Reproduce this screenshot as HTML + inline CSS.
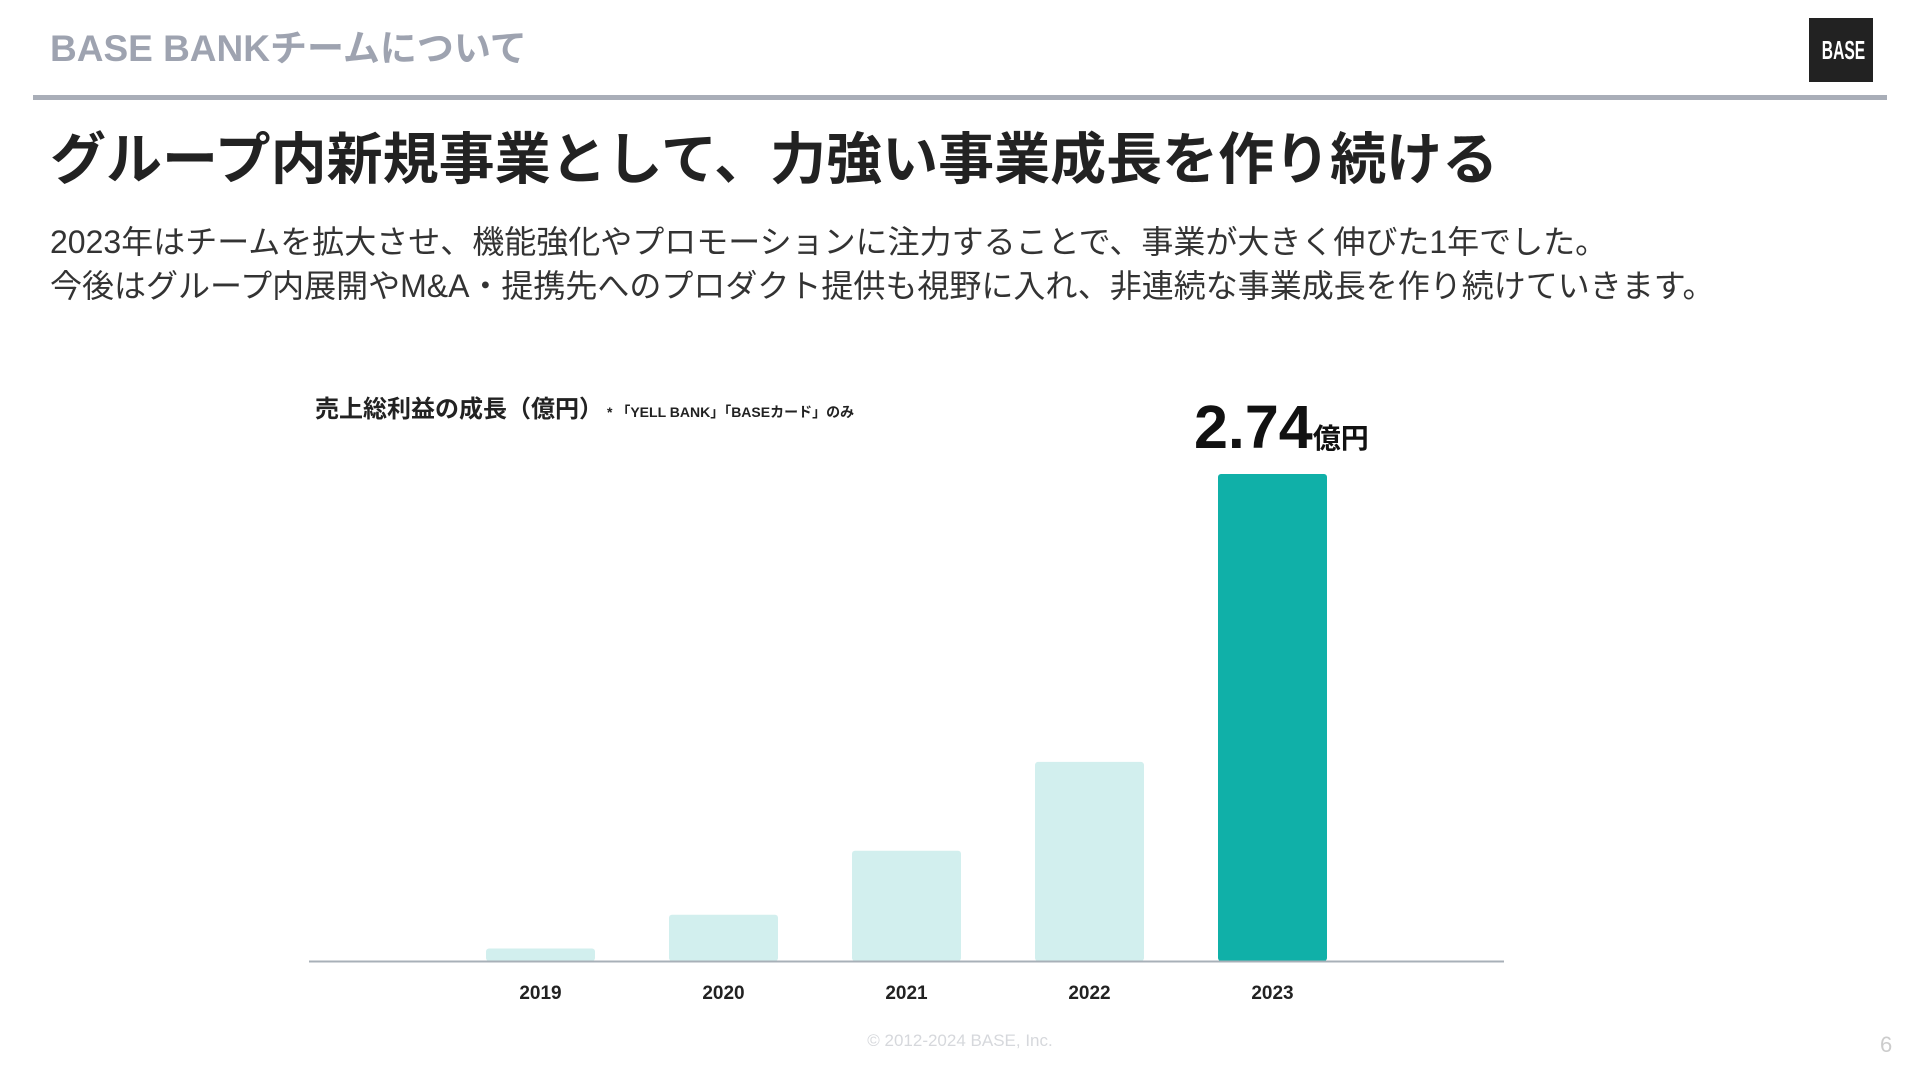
<!DOCTYPE html>
<html><head><meta charset="utf-8">
<style>
body{margin:0;width:1920px;height:1080px;background:#fff;position:relative;overflow:hidden;font-family:"Liberation Sans","Noto Sans CJK JP",sans-serif;}
.a{position:absolute;white-space:nowrap;}
</style></head>
<body>
<div class="a" style="left:50px;top:26px;font-size:37px;font-weight:bold;color:#9ea3b0;line-height:46px;">BASE BANKチームについて</div>
<div class="a" style="left:1809px;top:18px;width:64px;height:64px;background:#222;"><div style="color:#fff;font-size:26px;font-weight:bold;text-align:center;line-height:64px;transform:scaleX(0.6);">BASE</div></div>
<div class="a" style="left:33px;top:95px;width:1854px;height:5px;background:#a9aeb8;"></div>
<div class="a" style="left:50px;top:127px;font-size:56px;font-weight:bold;color:#222;line-height:66px;">グループ内新規事業として、力強い事業成長を作り続ける</div>
<div class="a" style="left:50px;top:220px;font-size:32px;color:#333;line-height:44px;">2023年はチームを拡大させ、機能強化やプロモーションに注力することで、事業が大きく伸びた1年でした。<br>今後はグループ内展開やM&amp;A・提携先へのプロダクト提供も視野に入れ、非連続な事業成長を作り続けていきます。</div>
<div class="a" style="left:315px;top:394px;font-size:24px;font-weight:bold;color:#222;line-height:32px;">売上総利益の成長（億円）<span style="font-size:14px;margin-left:4px;">* 「YELL BANK」「BASEカード」のみ</span></div>
<div class="a" style="left:1194px;top:392px;font-size:61px;font-weight:bold;color:#111;line-height:70px;">2.74<span style="font-size:28px;">億円</span></div>
<svg class="a" style="left:0;top:0" width="1920" height="1080">
<g id="bars"></g>
<line x1="309" y1="961.5" x2="1504" y2="961.5" stroke="#a8b0b8" stroke-width="2"/>
<g id="labels"></g>
</svg>
<div class="a" style="left:860px;top:1031px;width:200px;text-align:center;font-size:17px;color:#d6d8dc;">© 2012-2024 BASE, Inc.</div>
<div class="a" style="left:1880px;top:1032px;font-size:22px;color:#ccc;">6</div>
<script>
const categories=["2019","2020","2021","2022","2023"];
const values=[0.07,0.26,0.62,1.12,2.74];
const highlight=[false,false,false,false,true];
const ns="http://www.w3.org/2000/svg";
const baseY=961, pxPerUnit=487/2.74, x0=486, pitch=183, bw=109;
const xs=i=>x0+i*pitch;
const ys=v=>baseY-v*pxPerUnit;
const gb=document.getElementById('bars'), gl=document.getElementById('labels');
categories.forEach((c,i)=>{
 const r=document.createElementNS(ns,'rect');
 r.setAttribute('x',xs(i));r.setAttribute('y',ys(values[i]));
 r.setAttribute('width',bw);r.setAttribute('height',baseY-ys(values[i]));
 r.setAttribute('rx',3);
 r.setAttribute('fill',highlight[i]?'#10b0a8':'#d2efee');
 
 
 gb.appendChild(r);
 const t=document.createElementNS(ns,'text');
 t.setAttribute('x',xs(i)+bw/2);t.setAttribute('y',999);
 t.setAttribute('text-anchor','middle');t.setAttribute('font-size','19');t.setAttribute('font-weight','bold');t.setAttribute('fill','#222');
 t.setAttribute('font-family','Liberation Sans, sans-serif');
 t.textContent=c;
 
 
 gl.appendChild(t);
});
</script>
</body></html>
